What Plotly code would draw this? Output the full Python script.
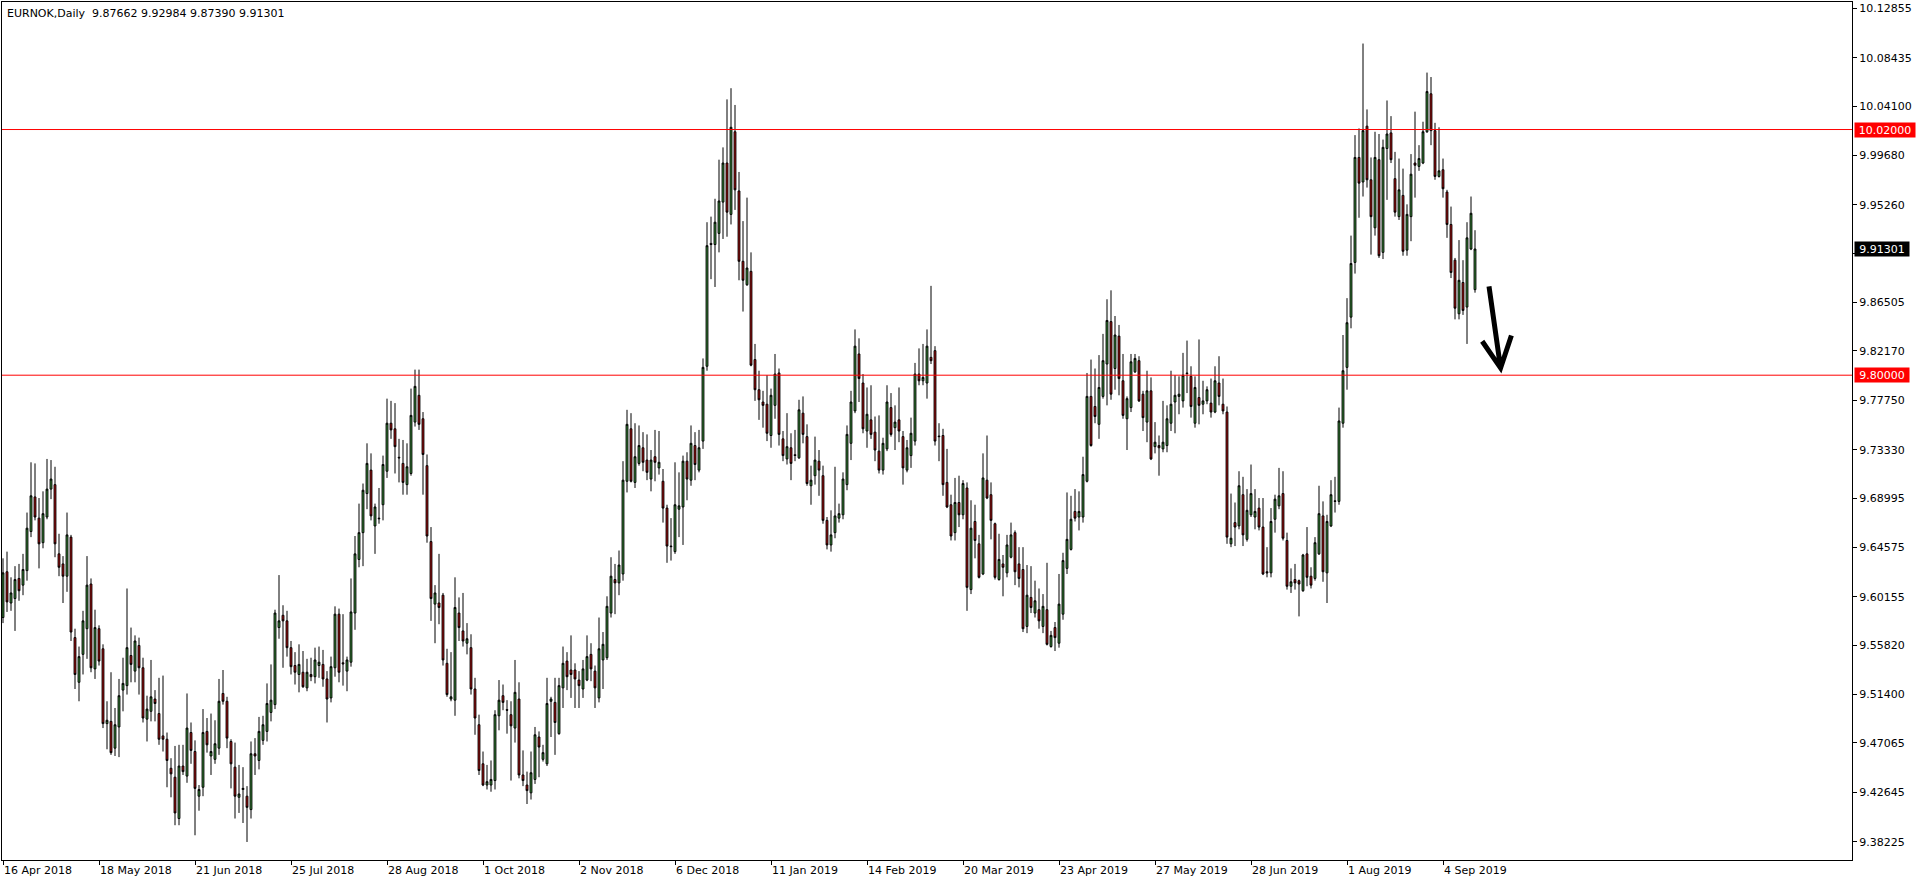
import plotly.graph_objects as go

SYMBOL_TITLE = "EURNOK,Daily  9.87662 9.92984 9.87390 9.91301"

opens = [
    9.583, 9.624, 9.596, 9.600, 9.618, 9.612, 9.625, 9.660, 9.691, 9.672,
    9.650, 9.673, 9.698, 9.702, 9.640, 9.631, 9.620, 9.655, 9.565, 9.525,
    9.550, 9.573, 9.613, 9.537, 9.573, 9.555, 9.488, 9.490, 9.466, 9.485,
    9.518, 9.522, 9.549, 9.535, 9.558, 9.538, 9.492, 9.499, 9.510, 9.497,
    9.477, 9.474, 9.448, 9.440, 9.403, 9.450, 9.441, 9.480, 9.463, 9.423,
    9.431, 9.481, 9.459, 9.456, 9.466, 9.515, 9.508, 9.472, 9.449, 9.422,
    9.429, 9.423, 9.411, 9.461, 9.455, 9.473, 9.481, 9.498, 9.505, 9.574,
    9.585, 9.580, 9.556, 9.540, 9.532, 9.534, 9.520, 9.532, 9.530, 9.540,
    9.541, 9.528, 9.511, 9.538, 9.586, 9.5425, 9.535, 9.543, 9.587, 9.635,
    9.659, 9.694, 9.715, 9.665, 9.672, 9.684, 9.714, 9.757, 9.752, 9.7265,
    9.721, 9.702, 9.712, 9.758, 9.782, 9.761, 9.719, 9.651, 9.595, 9.596,
    9.603, 9.542, 9.510, 9.509, 9.587, 9.571, 9.560, 9.556, 9.519, 9.487,
    9.452, 9.433, 9.433, 9.437, 9.495, 9.513, 9.5005, 9.496, 9.484, 9.510,
    9.442, 9.433, 9.426, 9.438, 9.476, 9.456, 9.452, 9.508, 9.507, 9.479,
    9.520, 9.544, 9.536, 9.536, 9.527, 9.519, 9.527, 9.550, 9.535, 9.511,
    9.545, 9.547, 9.587, 9.617, 9.614, 9.622, 9.705, 9.752, 9.704, 9.721,
    9.735, 9.724, 9.707, 9.727, 9.717, 9.705, 9.681, 9.647, 9.642, 9.680,
    9.682, 9.723, 9.706, 9.737, 9.715, 9.741, 9.808, 9.918, 9.917, 9.927,
    9.955, 9.990, 9.944, 10.018, 9.965, 9.902, 9.881, 9.893, 9.814, 9.787,
    9.776, 9.774, 9.746, 9.773, 9.802, 9.743, 9.725, 9.735, 9.7288, 9.726,
    9.766, 9.745, 9.701, 9.710, 9.723, 9.710, 9.670, 9.648, 9.659, 9.672,
    9.675, 9.702, 9.739, 9.768, 9.819, 9.793, 9.750, 9.760, 9.749, 9.732,
    9.715, 9.734, 9.771, 9.753, 9.760, 9.745, 9.715, 9.728, 9.741, 9.801,
    9.795, 9.793, 9.816, 9.822, 9.7455, 9.746, 9.704, 9.684, 9.659, 9.686,
    9.675, 9.699, 9.608, 9.669, 9.649, 9.622, 9.706, 9.693, 9.667, 9.617,
    9.631, 9.623, 9.637, 9.659, 9.631, 9.626, 9.575, 9.601, 9.587, 9.590,
    9.575, 9.590, 9.557, 9.574, 9.560, 9.586, 9.627, 9.644, 9.678, 9.673,
    9.673, 9.705, 9.781, 9.772, 9.756, 9.781, 9.810, 9.848, 9.806, 9.835,
    9.795, 9.761, 9.771, 9.803, 9.813, 9.783, 9.758, 9.786, 9.736, 9.737,
    9.734, 9.737, 9.757, 9.776, 9.781, 9.777, 9.802, 9.799, 9.757, 9.780,
    9.774, 9.777, 9.775, 9.767, 9.793, 9.774, 9.767, 9.649, 9.668, 9.665,
    9.693, 9.653, 9.675, 9.673, 9.681, 9.664, 9.624, 9.623, 9.671, 9.683,
    9.694, 9.652, 9.611, 9.617, 9.616, 9.607, 9.640, 9.620, 9.618, 9.640,
    9.674, 9.623, 9.665, 9.6875, 9.687, 9.757, 9.807, 9.852, 9.901, 9.995,
    9.973, 10.023, 9.975, 9.932, 9.993, 9.910, 10.003, 10.017, 9.976, 9.942,
    9.961, 9.912, 9.942, 9.990, 9.987, 9.990, 10.018, 10.052, 10.019, 9.978,
    9.984, 9.964, 9.935, 9.903, 9.855, 9.883, 9.861, 9.913, 9.87662,
]

highs = [
    9.636, 9.642, 9.619, 9.629, 9.631, 9.640, 9.677, 9.722, 9.721, 9.690,
    9.696, 9.725, 9.724, 9.718, 9.658, 9.638, 9.677, 9.657, 9.573, 9.557,
    9.589, 9.638, 9.618, 9.590, 9.576, 9.559, 9.508, 9.534, 9.502, 9.528,
    9.547, 9.609, 9.574, 9.567, 9.565, 9.547, 9.513, 9.545, 9.518, 9.529,
    9.531, 9.480, 9.457, 9.468, 9.469, 9.469, 9.515, 9.489, 9.473, 9.433,
    9.501, 9.493, 9.497, 9.491, 9.528, 9.536, 9.512, 9.474, 9.471, 9.451,
    9.449, 9.432, 9.472, 9.475, 9.494, 9.495, 9.524, 9.541, 9.590, 9.621,
    9.594, 9.589, 9.562, 9.552, 9.559, 9.553, 9.546, 9.547, 9.556, 9.557,
    9.554, 9.535, 9.548, 9.593, 9.591, 9.586, 9.548, 9.618, 9.656, 9.685,
    9.703, 9.739, 9.730, 9.685, 9.699, 9.728, 9.779, 9.777, 9.775, 9.743,
    9.742, 9.739, 9.788, 9.805, 9.805, 9.767, 9.729, 9.664, 9.612, 9.640,
    9.605, 9.555, 9.552, 9.619, 9.601, 9.605, 9.578, 9.568, 9.529, 9.496,
    9.463, 9.451, 9.455, 9.500, 9.527, 9.523, 9.509, 9.508, 9.545, 9.525,
    9.464, 9.445, 9.463, 9.485, 9.481, 9.469, 9.529, 9.512, 9.529, 9.529,
    9.557, 9.552, 9.567, 9.542, 9.535, 9.545, 9.567, 9.560, 9.540, 9.583,
    9.570, 9.602, 9.637, 9.631, 9.643, 9.723, 9.769, 9.766, 9.757, 9.755,
    9.749, 9.747, 9.733, 9.751, 9.750, 9.716, 9.684, 9.672, 9.722, 9.713,
    9.728, 9.731, 9.755, 9.749, 9.751, 9.815, 9.937, 9.942, 9.958, 9.993,
    10.004, 10.047, 10.057, 10.042, 9.982, 9.938, 9.959, 9.910, 9.828, 9.804,
    9.786, 9.800, 9.788, 9.819, 9.806, 9.750, 9.766, 9.748, 9.751, 9.778,
    9.781, 9.756, 9.719, 9.745, 9.733, 9.719, 9.673, 9.679, 9.718, 9.685,
    9.713, 9.755, 9.786, 9.841, 9.833, 9.801, 9.789, 9.791, 9.763, 9.764,
    9.744, 9.791, 9.784, 9.773, 9.789, 9.750, 9.742, 9.762, 9.811, 9.824,
    9.828, 9.841, 9.880, 9.826, 9.757, 9.752, 9.734, 9.693, 9.708, 9.710,
    9.706, 9.704, 9.688, 9.684, 9.657, 9.730, 9.746, 9.704, 9.668, 9.658,
    9.639, 9.657, 9.668, 9.661, 9.646, 9.646, 9.630, 9.629, 9.616, 9.609,
    9.604, 9.632, 9.571, 9.579, 9.622, 9.641, 9.695, 9.692, 9.698, 9.696,
    9.727, 9.802, 9.814, 9.806, 9.818, 9.837, 9.868, 9.876, 9.853, 9.845,
    9.819, 9.781, 9.819, 9.819, 9.817, 9.786, 9.804, 9.798, 9.758, 9.746,
    9.777, 9.773, 9.804, 9.800, 9.799, 9.820, 9.831, 9.808, 9.799, 9.832,
    9.795, 9.790, 9.797, 9.808, 9.817, 9.797, 9.772, 9.694, 9.686, 9.714,
    9.709, 9.698, 9.720, 9.698, 9.690, 9.690, 9.646, 9.681, 9.693, 9.717,
    9.714, 9.659, 9.627, 9.631, 9.617, 9.640, 9.664, 9.628, 9.655, 9.701,
    9.687, 9.675, 9.706, 9.709, 9.771, 9.836, 9.869, 9.925, 10.015, 10.021,
    10.097, 10.038, 9.995, 10.018, 10.016, 10.011, 10.046, 10.032, 10.000, 9.994,
    9.985, 9.953, 9.998, 10.036, 10.006, 10.027, 10.071, 10.067, 10.026, 10.022,
    9.994, 9.966, 9.951, 9.905, 9.921, 9.903, 9.937, 9.960, 9.92984,
]

lows = [
    9.578, 9.588, 9.589, 9.571, 9.598, 9.603, 9.616, 9.655, 9.670, 9.627,
    9.645, 9.671, 9.689, 9.637, 9.620, 9.596, 9.606, 9.562, 9.519, 9.508,
    9.532, 9.546, 9.534, 9.528, 9.540, 9.484, 9.465, 9.460, 9.459, 9.458,
    9.499, 9.514, 9.525, 9.525, 9.514, 9.489, 9.472, 9.490, 9.490, 9.469,
    9.463, 9.431, 9.422, 9.397, 9.397, 9.442, 9.435, 9.452, 9.388, 9.410,
    9.423, 9.462, 9.442, 9.452, 9.460, 9.505, 9.466, 9.430, 9.403, 9.408,
    9.399, 9.382, 9.403, 9.442, 9.447, 9.469, 9.472, 9.490, 9.501, 9.564,
    9.538, 9.548, 9.532, 9.523, 9.516, 9.520, 9.517, 9.526, 9.524, 9.529,
    9.521, 9.489, 9.507, 9.530, 9.525, 9.522, 9.517, 9.539, 9.572, 9.628,
    9.629, 9.680, 9.670, 9.640, 9.667, 9.670, 9.708, 9.743, 9.712, 9.704,
    9.693, 9.693, 9.710, 9.754, 9.751, 9.693, 9.650, 9.580, 9.560, 9.577,
    9.540, 9.512, 9.508, 9.495, 9.562, 9.557, 9.550, 9.514, 9.478, 9.442,
    9.432, 9.429, 9.427, 9.429, 9.482, 9.500, 9.479, 9.437, 9.471, 9.439,
    9.432, 9.416, 9.420, 9.434, 9.440, 9.454, 9.450, 9.476, 9.460, 9.478,
    9.502, 9.518, 9.511, 9.502, 9.502, 9.511, 9.526, 9.526, 9.502, 9.507,
    9.519, 9.545, 9.583, 9.586, 9.603, 9.616, 9.695, 9.704, 9.699, 9.719,
    9.714, 9.706, 9.696, 9.705, 9.711, 9.668, 9.632, 9.634, 9.640, 9.655,
    9.648, 9.688, 9.701, 9.706, 9.713, 9.734, 9.804, 9.886, 9.879, 9.910,
    9.922, 9.924, 9.935, 9.948, 9.885, 9.857, 9.880, 9.808, 9.777, 9.760,
    9.753, 9.741, 9.735, 9.761, 9.737, 9.723, 9.720, 9.706, 9.723, 9.725,
    9.739, 9.701, 9.684, 9.702, 9.692, 9.667, 9.644, 9.642, 9.654, 9.668,
    9.671, 9.697, 9.724, 9.766, 9.776, 9.748, 9.735, 9.743, 9.723, 9.712,
    9.711, 9.732, 9.745, 9.733, 9.740, 9.702, 9.713, 9.717, 9.737, 9.791,
    9.791, 9.779, 9.810, 9.737, 9.723, 9.692, 9.681, 9.652, 9.652, 9.664,
    9.671, 9.589, 9.604, 9.636, 9.618, 9.621, 9.689, 9.653, 9.617, 9.616,
    9.602, 9.619, 9.636, 9.612, 9.610, 9.570, 9.569, 9.587, 9.583, 9.573,
    9.569, 9.558, 9.556, 9.553, 9.556, 9.581, 9.622, 9.643, 9.669, 9.661,
    9.668, 9.704, 9.736, 9.757, 9.743, 9.779, 9.773, 9.778, 9.787, 9.782,
    9.761, 9.733, 9.767, 9.802, 9.776, 9.750, 9.740, 9.724, 9.730, 9.710,
    9.731, 9.731, 9.750, 9.748, 9.765, 9.771, 9.784, 9.762, 9.753, 9.756,
    9.765, 9.774, 9.762, 9.766, 9.773, 9.765, 9.649, 9.646, 9.647, 9.662,
    9.647, 9.651, 9.673, 9.662, 9.661, 9.621, 9.619, 9.619, 9.659, 9.680,
    9.652, 9.608, 9.605, 9.608, 9.584, 9.606, 9.611, 9.609, 9.616, 9.639,
    9.615, 9.596, 9.664, 9.677, 9.684, 9.753, 9.787, 9.842, 9.891, 9.941,
    9.960, 9.968, 9.908, 9.925, 9.905, 9.904, 9.957, 9.990, 9.942, 9.939,
    9.907, 9.907, 9.920, 9.959, 9.983, 9.989, 10.017, 10.006, 9.975, 9.977,
    9.959, 9.923, 9.887, 9.850, 9.850, 9.854, 9.828, 9.912, 9.87390,
]

closes = [
    9.623, 9.597, 9.605, 9.617, 9.607, 9.626, 9.663, 9.692, 9.673, 9.649,
    9.676, 9.698, 9.707, 9.649, 9.628, 9.620, 9.657, 9.570, 9.532, 9.548,
    9.580, 9.612, 9.538, 9.574, 9.544, 9.488, 9.491, 9.462, 9.487, 9.513,
    9.524, 9.556, 9.541, 9.562, 9.538, 9.493, 9.501, 9.512, 9.506, 9.474,
    9.474, 9.455, 9.443, 9.408, 9.450, 9.445, 9.484, 9.464, 9.430, 9.429,
    9.480, 9.469, 9.463, 9.470, 9.508, 9.508, 9.475, 9.452, 9.423, 9.425,
    9.430, 9.413, 9.461, 9.459, 9.481, 9.487, 9.506, 9.509, 9.587, 9.580,
    9.580, 9.556, 9.539, 9.534, 9.541, 9.521, 9.534, 9.530, 9.545, 9.543,
    9.528, 9.510, 9.539, 9.586, 9.534, 9.5415, 9.545, 9.588, 9.640, 9.659,
    9.697, 9.721, 9.674, 9.682, 9.6715, 9.720, 9.757, 9.751, 9.736, 9.726,
    9.704, 9.718, 9.764, 9.790, 9.756, 9.729, 9.656, 9.600, 9.605, 9.592,
    9.545, 9.514, 9.512, 9.592, 9.574, 9.562, 9.564, 9.519, 9.493, 9.446,
    9.433, 9.436, 9.438, 9.496, 9.509, 9.507, 9.500, 9.486, 9.516, 9.442,
    9.437, 9.428, 9.444, 9.478, 9.467, 9.462, 9.506, 9.510, 9.489, 9.522,
    9.542, 9.530, 9.532, 9.528, 9.522, 9.537, 9.548, 9.537, 9.520, 9.555,
    9.559, 9.593, 9.620, 9.614, 9.630, 9.706, 9.756, 9.705, 9.727, 9.737,
    9.722, 9.713, 9.724, 9.722, 9.722, 9.681, 9.647, 9.6465, 9.684, 9.683,
    9.723, 9.707, 9.739, 9.720, 9.735, 9.807, 9.916, 9.917, 9.937, 9.956,
    9.990, 9.946, 10.022, 9.966, 9.902, 9.885, 9.896, 9.809, 9.787, 9.778,
    9.773, 9.748, 9.782, 9.801, 9.747, 9.728, 9.736, 9.721, 9.7281, 9.769,
    9.747, 9.703, 9.706, 9.724, 9.715, 9.670, 9.648, 9.657, 9.674, 9.676,
    9.707, 9.747, 9.776, 9.826, 9.797, 9.752, 9.765, 9.747, 9.733, 9.715,
    9.739, 9.776, 9.747, 9.758, 9.750, 9.717, 9.735, 9.748, 9.801, 9.795,
    9.798, 9.826, 9.813, 9.741, 9.745, 9.702, 9.682, 9.656, 9.686, 9.675,
    9.703, 9.610, 9.663, 9.652, 9.619, 9.708, 9.690, 9.670, 9.619, 9.635,
    9.628, 9.648, 9.657, 9.624, 9.618, 9.573, 9.603, 9.592, 9.598, 9.580,
    9.593, 9.559, 9.567, 9.565, 9.595, 9.634, 9.653, 9.671, 9.672, 9.678,
    9.711, 9.781, 9.737, 9.763, 9.789, 9.813, 9.849, 9.783, 9.836, 9.797,
    9.764, 9.779, 9.812, 9.815, 9.777, 9.762, 9.786, 9.725, 9.740, 9.735,
    9.740, 9.761, 9.774, 9.782, 9.783, 9.800, 9.8015, 9.772, 9.789, 9.773,
    9.777, 9.787, 9.767, 9.795, 9.781, 9.768, 9.655, 9.654, 9.664, 9.701,
    9.657, 9.679, 9.694, 9.678, 9.664, 9.622, 9.623, 9.669, 9.689, 9.692,
    9.654, 9.611, 9.615, 9.614, 9.613, 9.639, 9.619, 9.612, 9.650, 9.676,
    9.624, 9.669, 9.693, 9.687, 9.759, 9.804, 9.847, 9.900, 9.995, 9.972,
    10.019, 9.975, 9.942, 9.995, 9.907, 10.004, 10.016, 9.993, 9.946, 9.966,
    9.911, 9.944, 9.980, 9.988, 9.994, 10.018, 10.054, 10.019, 9.978, 9.983,
    9.967, 9.935, 9.892, 9.860, 9.885, 9.858, 9.923, 9.945, 9.91301,
]

date_labels = [
    "16 Apr 2018", "18 May 2018", "21 Jun 2018", "25 Jul 2018", "28 Aug 2018",
    "1 Oct 2018", "2 Nov 2018", "6 Dec 2018", "11 Jan 2019", "14 Feb 2019",
    "20 Mar 2019", "23 Apr 2019", "27 May 2019", "28 Jun 2019", "1 Aug 2019",
    "4 Sep 2019",
]
bars_per_label = 24

price_ticks = [10.12855, 10.08435, 10.04100, 9.99680, 9.95260, 9.90925, 9.86505,
               9.82170, 9.77750, 9.73330, 9.68995, 9.64575, 9.60155, 9.55820,
               9.51400, 9.47065, 9.42645, 9.38225]
# the 9.90925 label sits under the current-price box in the reference
hidden_tick = 9.90925

level_lines = [10.02, 9.80]
last_price = 9.91301

# hand-drawn arrow (bar index, price)
arrow_top = (371.5, 9.8795)
arrow_tip = (374.4, 9.8064)
arrow_left = (369.8, 9.8304)
arrow_right = (377.1, 9.8356)

GREEN = "#3aa63a"
RED = "#d20000"
FONT = "DejaVu Sans"

idx = list(range(len(opens)))
tick_idx = [i * bars_per_label for i in range(len(date_labels))]
price_ticktext = ["" if t == hidden_tick else f"{t:.5f}" for t in price_ticks]

fig = go.Figure()
fig.add_trace(go.Candlestick(
    x=idx, open=opens, high=highs, low=lows, close=closes,
    increasing=dict(fillcolor=GREEN, line=dict(color="black", width=1)),
    decreasing=dict(fillcolor=RED, line=dict(color="black", width=1)),
    whiskerwidth=0, hoverinfo="skip", showlegend=False,
))

shapes = []
for lv in level_lines:
    shapes.append(dict(type="line", xref="paper", x0=0, x1=1, yref="y", y0=lv, y1=lv,
                       line=dict(color="#ff0000", width=1), layer="above"))
path = (f"M {arrow_top[0]},{arrow_top[1]} L {arrow_tip[0]},{arrow_tip[1]} "
        f"M {arrow_left[0]},{arrow_left[1]} L {arrow_tip[0]},{arrow_tip[1]} "
        f"L {arrow_right[0]},{arrow_right[1]}")
shapes.append(dict(type="path", xref="x", yref="y", path=path,
                   line=dict(color="black", width=5), layer="above"))

annotations = [
    dict(text=SYMBOL_TITLE, xref="paper", yref="paper", x=0, y=1, xanchor="left",
         yanchor="top", xshift=3, yshift=-3, showarrow=False,
         font=dict(family=FONT, size=11, color="black")),
]
for lv, w in zip(level_lines, [58, 52]):
    annotations.append(dict(text=f"{lv:.5f}", xref="paper", yref="y", x=1, y=lv,
                            xanchor="left", yanchor="middle", xshift=2, showarrow=False,
                            bgcolor="#ff0000", width=w, height=12, borderpad=1,
                            align="center", font=dict(family=FONT, size=11, color="white")))
annotations.append(dict(text=f"{last_price:.5f}", xref="paper", yref="y", x=1, y=last_price,
                        xanchor="left", yanchor="middle", xshift=2, showarrow=False,
                        bgcolor="black", width=52, height=12, borderpad=1,
                        align="center", font=dict(family=FONT, size=11, color="white")))

fig.update_layout(
    width=1916, height=884,
    margin=dict(l=2, r=64, t=2, b=24),
    paper_bgcolor="white", plot_bgcolor="white",
    font=dict(family=FONT, size=11, color="black"),
    boxgap=0.35,
    shapes=shapes, annotations=annotations,
    xaxis=dict(range=[-0.25, 462.25], showgrid=False, zeroline=False,
               showline=True, linecolor="black", linewidth=1, mirror=True,
               tickmode="array", tickvals=tick_idx, ticktext=date_labels,
               ticks="outside", ticklen=4, tickcolor="black",
               ticklabelposition="outside right",
               rangeslider=dict(visible=False), fixedrange=True),
    yaxis=dict(range=[9.36586, 10.1342], side="right", showgrid=False, zeroline=False,
               showline=True, linecolor="black", linewidth=1, mirror=True,
               tickmode="array", tickvals=price_ticks, ticktext=price_ticktext,
               ticks="outside", ticklen=4, tickcolor="black", fixedrange=True),
)

fig.write_html("out.html", config={"displayModeBar": False},
               post_script="document.body.style.margin='0';document.body.style.overflow='hidden';")
